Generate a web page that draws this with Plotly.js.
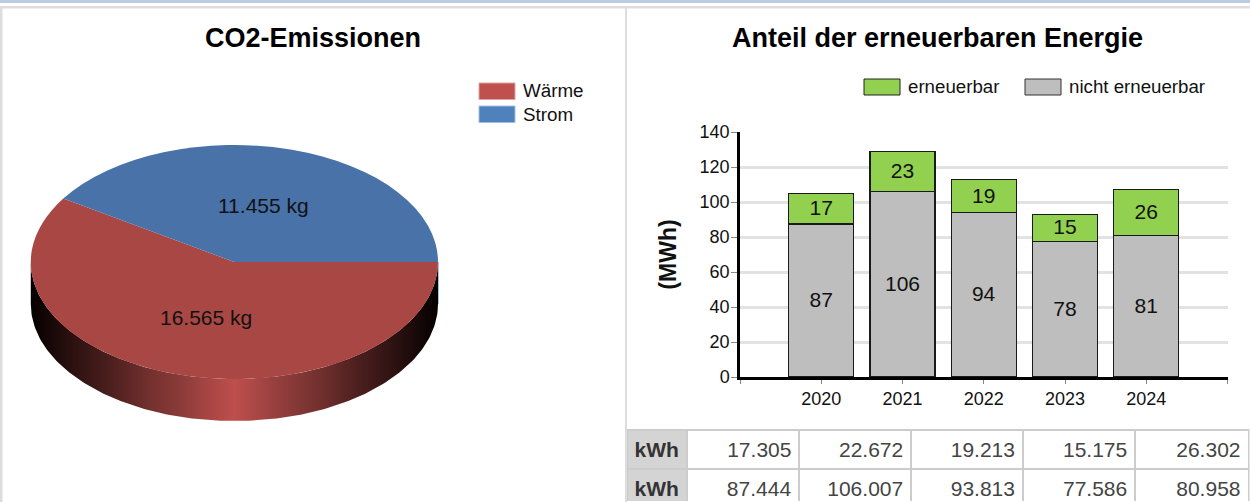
<!DOCTYPE html>
<html>
<head>
<meta charset="utf-8">
<script src="https://cdn.plot.ly/plotly-3.0.1.min.js"></script>
<style>
html,body{margin:0;padding:0;background:#fff;overflow:hidden}#chart{width:1250px;height:502px}
.cellTextHolder{translate:2px 0}
.cellTextHolder:has(tspan[style*="bold"]){translate:-3px 0}
</style>
</head>
<body>
<div id="chart"></div>
<script>
// ---- data ----
const pieLabels = ['Wärme', 'Strom'];
const pieValuesKg = [16565, 11455];
const years = [2020, 2021, 2022, 2023, 2024];
const renewableKwh = [17305, 22672, 19213, 15175, 26302];
const nonRenewableKwh = [87444, 106007, 93813, 77586, 80958];
const rowLabel = 'kWh';

// ---- page geometry helpers (1250x502 px) ----
const W = 1250, H = 502;
const px = x => x / W;
const py = y => 1 - y / H;
const FONT = '"Liberation Sans", Arial, sans-serif';
const de = n => '<span>' + n.toLocaleString('de-DE') + '</span>';
const plain = n => n.toLocaleString('de-DE');

const cx = 234.4, cy = 262, rx = 203.6, ry = 117, depth = 42;
const SQUASH = ry / rx;

// side wall of the pie: lower half of the ellipse, extruded downward
const wallX = [], wallY = [];
for (let a = 0; a <= 180; a += 1) { const t = a * Math.PI / 180; wallX.push(cx + rx * Math.cos(t)); wallY.push(cy + ry * Math.sin(t)); }
for (let a = 180; a >= 0; a -= 1) { const t = a * Math.PI / 180; wallX.push(cx + rx * Math.cos(t)); wallY.push(cy + depth + ry * Math.sin(t)); }

const traces = [
  {
    type: 'scatter', x: wallX, y: wallY, xaxis: 'x', yaxis: 'y', mode: 'lines', line: {width: 0},
    fill: 'toself', hoverinfo: 'skip', showlegend: false,
    fillgradient: {
      type: 'horizontal', start: cx - rx, stop: cx + rx,
      colorscale: [[0,'#050000'],[0.1,'#2a1110'],[0.2,'#4d201f'],[0.29,'#72302e'],[0.38,'#8f3d3b'],[0.44,'#a84644'],[0.5,'#bd4f4c'],
                   [0.56,'#a84644'],[0.62,'#8f3d3b'],[0.71,'#72302e'],[0.8,'#4d201f'],[0.9,'#2a1110'],[1,'#050000']]
    }
  },
  {
    type: 'pie', labels: pieLabels, values: pieValuesKg, sort: false, direction: 'clockwise', rotation: 90,
    marker: {colors: ['#A94744', '#4872A8'], line: {width: 0}}, textinfo: 'none', showlegend: false,
    domain: {x: [px(cx - rx), px(cx + rx)], y: [py(cy + rx), py(cy - rx)]}
  },
  {
    type: 'bar', name: 'nicht erneuerbar', x: years, y: nonRenewableKwh.map(v => v / 1000), xaxis: 'x2', yaxis: 'y2',
    width: 0.8, marker: {color: '#BEBEBE', line: {color: '#1a1a1a', width: 1.3}},
    text: nonRenewableKwh.map(v => String(Math.round(v / 1000))), textposition: 'inside', insidetextanchor: 'middle',
    textangle: 0, constraintext: 'none', textfont: {family: FONT, size: 21, color: '#111'}, showlegend: false
  },
  {
    type: 'bar', name: 'erneuerbar', x: years, y: renewableKwh.map(v => v / 1000), xaxis: 'x2', yaxis: 'y2',
    width: 0.8, marker: {color: '#92D050', line: {color: '#1a1a1a', width: 1.3}},
    text: renewableKwh.map(v => String(Math.round(v / 1000))), textposition: 'inside', insidetextanchor: 'middle',
    textangle: 0, constraintext: 'none', textfont: {family: FONT, size: 21, color: '#111'}, showlegend: false
  },
  {
    type: 'table', columnwidth: [60.5, 112, 111.5, 111.5, 112, 113],
    domain: {x: [px(626.5), px(1249)], y: [0, py(430)]},
    header: {
      values: ['<b>' + rowLabel + '</b>'].concat(renewableKwh.map(de)),
      height: 37, align: ['left','right','right','right','right','right'],
      font: {family: FONT, size: 21, color: ['#333','#444','#444','#444','#444','#444']},
      fill: {color: ['#D4D4D4','#fff','#fff','#fff','#fff','#fff']},
      line: {color: '#CCCCCC', width: 2}
    },
    cells: {
      values: [[ '<b>' + rowLabel + '</b>' ]].concat(nonRenewableKwh.map(v => [de(v)])),
      height: 37, align: ['left','right','right','right','right','right'],
      font: {family: FONT, size: 21, color: ['#333','#444','#444','#444','#444','#444']},
      fill: {color: ['#D4D4D4','#fff','#fff','#fff','#fff','#fff']},
      line: {color: '#CCCCCC', width: 2}
    }
  }
];

const rect = (x0, y0, x1, y1, fill, line) => ({type: 'rect', xref: 'paper', yref: 'paper', x0: px(x0), x1: px(x1), y0: py(y1), y1: py(y0),
  fillcolor: fill, line: line ? {color: line, width: 1} : {width: 0}, layer: 'above'});
const note = (x, y, text, size, anchor, extra) => Object.assign({xref: 'paper', yref: 'paper', x: px(x), y: py(y), text, showarrow: false,
  xanchor: anchor || 'center', yanchor: 'middle', font: {family: FONT, size, color: '#111'}}, extra || {});

const layout = {
  width: W, height: H, margin: {l: 0, r: 0, t: 0, b: 0, pad: 0}, paper_bgcolor: '#fff', plot_bgcolor: 'rgba(0,0,0,0)',
  font: {family: FONT}, showlegend: false, barmode: 'stack', hovermode: false,
  title: {text: '<b>CO2-Emissionen</b>', x: px(313), xanchor: 'center', y: py(38), yanchor: 'middle', font: {family: FONT, size: 27, color: '#000'}},
  xaxis: {domain: [0, 1], range: [0, W], visible: false, fixedrange: true},
  yaxis: {domain: [0, 1], range: [H, 0], visible: false, fixedrange: true},
  xaxis2: {
    anchor: 'y2', domain: [px(740), px(1227.5)], range: [2019, 2025], tickmode: 'array', tickvals: [2019].concat(years, [2025]),
    ticktext: [''].concat(years.map(String), ['']), ticks: 'outside', ticklen: 4, tickwidth: 1, tickcolor: '#888',
    showline: true, linecolor: '#000', linewidth: 2.5, showgrid: false, zeroline: false,
    tickfont: {family: FONT, size: 18, color: '#111'}, fixedrange: true
  },
  yaxis2: {
    anchor: 'x2', domain: [py(377), py(132)], range: [0, 140], tick0: 0, dtick: 20, ticks: 'outside', ticklen: 6, tickwidth: 1, tickcolor: '#888',
    ticklabelstandoff: -2,
    showline: true, linecolor: '#000', linewidth: 2.5, gridcolor: '#E2E2E2', gridwidth: 3, zeroline: false,
    tickfont: {family: FONT, size: 18, color: '#111'}, fixedrange: true,
    title: {text: '<b>(MWh)</b>', standoff: 17, font: {family: FONT, size: 23, color: '#111'}}
  },
  shapes: [
    rect(0, 0, W, 3, '#B8CCE4'),
    rect(0, 6, W, 8.5, '#DDDDDD'),
    rect(0, 6, 2.5, H, '#DDDDDD'),
    rect(625, 6, 627, H, '#DDDDDD'),
    rect(479, 83, 515, 99.5, '#C0504D', '#D8A5A3'),
    rect(479, 106, 515, 122.5, '#4F81BD', '#A5BEDD'),
    rect(864, 79, 900, 95, '#92D050', '#222'),
    rect(1025, 79, 1061, 95, '#BEBEBE', '#333'),
    {type: 'line', xref: 'x', yref: 'y', x0: cx + rx + 0.5, x1: cx + rx + 0.5, y0: cy, y1: cy + depth, line: {color: '#A9C0DC', width: 1}}
  ],
  annotations: [
    note(937, 38, '<b>Anteil der erneuerbaren Energie</b>', 27, 'center', {font: {family: FONT, size: 27, color: '#000'}}),
    note(521, 90.5, pieLabels[0], 18.8, 'left'),
    note(521, 114, pieLabels[1], 18.8, 'left'),
    note(906, 86.5, 'erneuerbar', 18.7, 'left'),
    note(1067, 86.5, 'nicht erneuerbar', 18.7, 'left'),
    note(263.5, 205, plain(pieValuesKg[1]) + ' kg', 21),
    note(206, 317.5, plain(pieValuesKg[0]) + ' kg', 21)
  ]
};

// nudge an element without touching the transform Plotly gave it
function nudge(el, dx, dy) {
  const g = document.createElementNS('http://www.w3.org/2000/svg', 'g');
  g.setAttribute('transform', `translate(${dx},${dy})`);
  el.parentNode.insertBefore(g, el);
  g.appendChild(el);
}

Plotly.newPlot('chart', traces, layout, {displayModeBar: false}).then(gd => {
  // tilt the pie into the perspective ellipse
  const pl = gd.querySelector('.pielayer');
  if (pl) pl.setAttribute('transform', `translate(0,${cy}) scale(1,${SQUASH}) translate(0,${-cy})`);
  gd.querySelectorAll('.bartext').forEach(t => nudge(t, 0, -1));
});
</script>
</body>
</html>
